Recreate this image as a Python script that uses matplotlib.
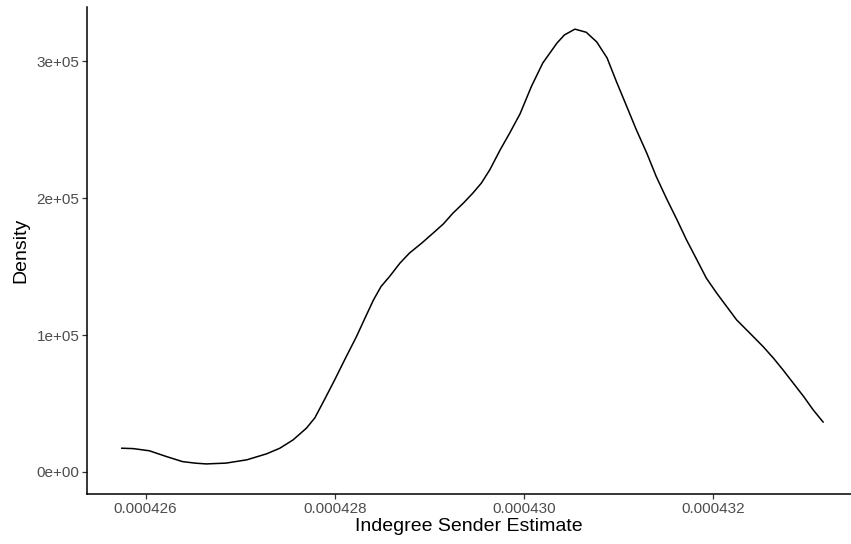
import matplotlib
matplotlib.use("Agg")
import matplotlib.pyplot as plt
import numpy as np

# density curve (x = estimate, y = density)
estimate = [0.00042574, 0.00042587, 0.00042604, 0.00042622, 0.00042639,
            0.00042652, 0.00042664, 0.00042685, 0.00042707, 0.00042728,
            0.00042742, 0.00042756, 0.00042770, 0.00042779, 0.00042789,
            0.00042800, 0.00042811, 0.00042823, 0.00042832, 0.00042841,
            0.00042849, 0.00042858, 0.00042869, 0.00042879, 0.00042892,
            0.00042904, 0.00042915, 0.00042925, 0.00042936, 0.00042946,
            0.00042955, 0.00042964, 0.00042975, 0.00042985, 0.00042996,
            0.00043008, 0.00043020, 0.00043035, 0.00043043, 0.00043054,
            0.00043066, 0.00043077, 0.00043088, 0.00043098, 0.00043109,
            0.00043119, 0.00043130, 0.00043140, 0.00043151, 0.00043162,
            0.00043172, 0.00043183, 0.00043193, 0.00043204, 0.00043215,
            0.00043225, 0.00043239, 0.00043253, 0.00043264, 0.00043274,
            0.00043285, 0.00043296, 0.00043306, 0.00043317]
density = [17300, 17000, 15400, 11200, 7500,
           6400, 5800, 6400, 8800, 13200,
           17300, 23400, 31900, 39500, 52600,
           67300, 82600, 98900, 112400, 125700,
           135500, 142800, 152600, 159900, 167200,
           174500, 181300, 189100, 196400, 203700,
           211000, 220800, 235400, 247600, 261700,
           281700, 298800, 313400, 319400, 323600,
           321300, 314300, 302600, 285100, 266800,
           250000, 233000, 215900, 199600, 184200,
           169600, 155000, 141600, 130600, 120400,
           111100, 101400, 91600, 83100, 74600,
           64800, 55000, 45300, 36000]

x_ticks = [0.000426, 0.000428, 0.000430, 0.000432]
x_tick_labels = ["0.000426", "0.000428", "0.000430", "0.000432"]
y_ticks = [0, 100000, 200000, 300000]
y_tick_labels = ["0e+00", "1e+05", "2e+05", "3e+05"]

plt.rcParams['font.family'] = ['Liberation Sans', 'DejaVu Sans']

fig = plt.figure(figsize=(8.51, 5.44), dpi=100)
ax = fig.add_axes([87 / 851, 1 - 494 / 544, 1 - 87 / 851, (494 - 7) / 544])

ax.plot(estimate, density, color="black", lw=1.1, solid_capstyle="butt",
        solid_joinstyle="round")

ax.set_xlim(0.00042538, 0.00043346)
# ggplot style 5% expansion, density area includes zero
yr = max(density) - 0
ax.set_ylim(0 - 0.05 * yr, max(density) + 0.05 * yr)

ax.set_xticks(x_ticks)
ax.set_xticklabels(x_tick_labels)
ax.set_yticks(y_ticks)
ax.set_yticklabels(y_tick_labels)

for s in ["top", "right"]:
    ax.spines[s].set_visible(False)
for s in ["left", "bottom"]:
    ax.spines[s].set_linewidth(1.1)
    ax.spines[s].set_color("black")

ax.tick_params(axis="both", length=3.5, width=0.9, color="#333333",
               labelcolor="#4D4D4D", labelsize=11, pad=2)

ax.set_xlabel("Indegree Sender Estimate", fontsize=14, color="black", labelpad=2)
ax.set_ylabel("Density", fontsize=14, color="black", labelpad=5)

fig.savefig("out.png", dpi=100)
